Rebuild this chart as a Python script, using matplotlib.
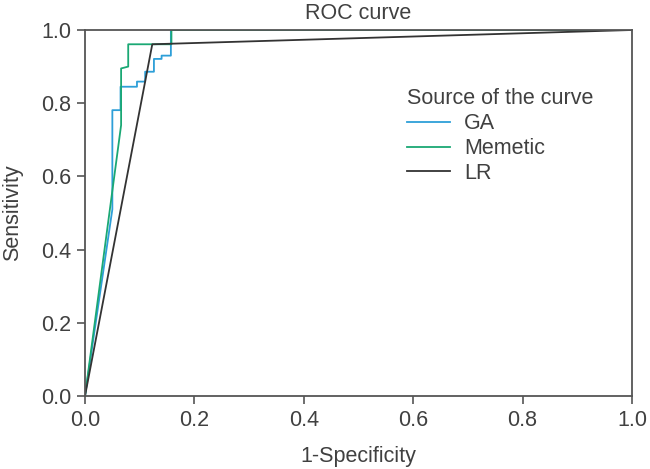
import matplotlib
matplotlib.use("Agg")
import matplotlib.pyplot as plt

plt.rcParams['font.family'] = ['Liberation Sans', 'DejaVu Sans']

ga_fpr = [0.0, 0.050, 0.050, 0.065, 0.065, 0.095, 0.095, 0.110, 0.110, 0.126, 0.126, 0.140, 0.140, 0.157, 0.157, 1.0]
ga_tpr = [0.0, 0.51, 0.781, 0.781, 0.845, 0.845, 0.859, 0.859, 0.886, 0.886, 0.921, 0.921, 0.930, 0.930, 1.0, 1.0]

mem_fpr = [0.0, 0.066, 0.066, 0.079, 0.079, 0.158, 0.158, 1.0]
mem_tpr = [0.0, 0.740, 0.895, 0.900, 0.961, 0.961, 1.0, 1.0]

lr_fpr = [0.0, 0.123, 1.0]
lr_tpr = [0.0, 0.961, 1.0]

labels = ["GA", "Memetic", "LR"]
colors = ["#2d9fd8", "#1aa874", "#333333"]
ticks = [0.0, 0.2, 0.4, 0.6, 0.8, 1.0]

fig = plt.figure(figsize=(6.5, 4.69), dpi=100)
ax = fig.add_axes([85/650, 1-396/469, (632-85)/650, (396-30)/469])

txt = "#404040"
fs = 15.5
ax.plot(ga_fpr, ga_tpr, color=colors[0], lw=1.3, label=labels[0])
ax.plot(mem_fpr, mem_tpr, color=colors[1], lw=1.3, label=labels[1])
ax.plot(lr_fpr, lr_tpr, color=colors[2], lw=1.3, label=labels[2])

ax.set_xlim(0, 1)
ax.set_ylim(0, 1)
ax.set_xticks(ticks)
ax.set_yticks(ticks)
ax.set_xticklabels([f"{t:.1f}" for t in ticks])
ax.set_yticklabels([f"{t:.1f}" for t in ticks])
ax.tick_params(direction='out', length=6, width=1.2, color="#555555", labelcolor=txt, labelsize=fs, pad=4,
               top=False, right=False)
for s in ax.spines.values():
    s.set_color("#555555")
    s.set_linewidth(1.3)

ax.set_xlabel("1-Specificity", fontsize=fs, color=txt, labelpad=11)
ax.set_ylabel("Sensitivity", fontsize=fs, color=txt, labelpad=13)
ax.set_title("ROC curve", fontsize=fs, color=txt, pad=8)

leg = ax.legend(title="Source of the curve", loc='upper left', bbox_to_anchor=(0.5685, 0.87),
                frameon=False, fontsize=fs, title_fontsize=fs, handlelength=2.0,
                handletextpad=0.65, labelspacing=0.18, borderpad=0)
leg._legend_box.align = "left"
for t in leg.get_texts():
    t.set_color(txt)
leg.get_title().set_color(txt)

fig.savefig("out.png", dpi=100)
